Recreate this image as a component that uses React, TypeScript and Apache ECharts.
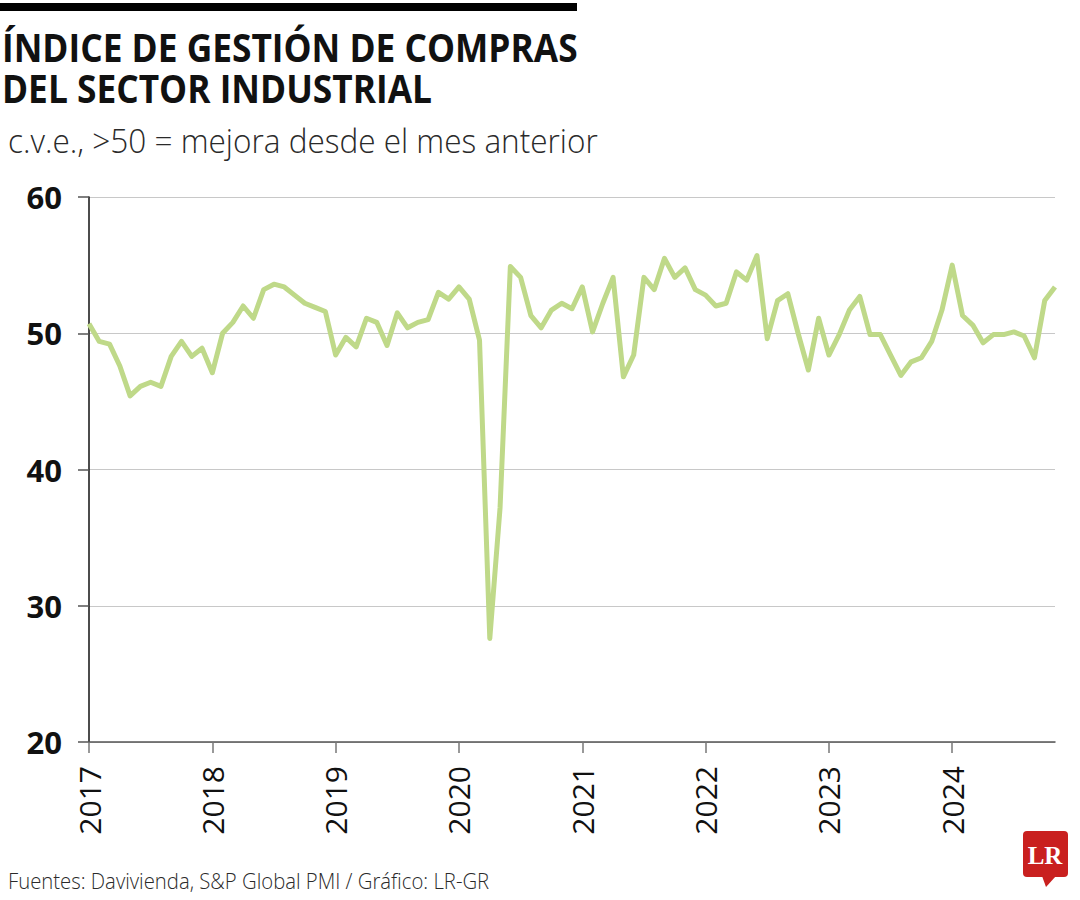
import React, { useEffect, useRef } from "react";
import * as echarts from "echarts";

const years = ["2017", "2018", "2019", "2020", "2021", "2022", "2023", "2024"];
const months = ["01", "02", "03", "04", "05", "06", "07", "08", "09", "10", "11", "12"];

const v2017 = [50.7, 49.4, 49.2, 47.6, 45.4, 46.1, 46.4, 46.1, 48.3, 49.4, 48.3, 48.9];
const v2018 = [47.1, 50.0, 50.8, 52.0, 51.1, 53.2, 53.6, 53.4, 52.8, 52.2, 51.9, 51.6];
const v2019 = [48.4, 49.7, 49.0, 51.1, 50.8, 49.1, 51.5, 50.4, 50.8, 51.0, 53.0, 52.5];
const v2020 = [53.4, 52.5, 49.5, 27.6, 37.2, 54.9, 54.1, 51.3, 50.4, 51.7, 52.2, 51.8];
const v2021 = [53.4, 50.1, 52.2, 54.1, 46.8, 48.4, 54.1, 53.2, 55.5, 54.1, 54.8, 53.2];
const v2022 = [52.8, 52.0, 52.2, 54.5, 53.9, 55.7, 49.6, 52.4, 52.9, 50.0, 47.3, 51.1];
const v2023 = [48.4, 49.9, 51.7, 52.7, 49.9, 49.9, 48.4, 46.9, 47.9, 48.2, 49.4, 51.7];
const v2024 = [55.0, 51.3, 50.6, 49.3, 49.9, 49.9, 50.1, 49.8, 48.2, 52.4, 53.4];

const valuesByYear = [v2017, v2018, v2019, v2020, v2021, v2022, v2023, v2024];

const yTicks = { min: 20, max: 60, interval: 10 };

const TITLE_1 = "ÍNDICE DE GESTIÓN DE COMPRAS";
const TITLE_2 = "DEL SECTOR INDUSTRIAL";
const SUBTITLE = "c.v.e., >50 = mejora desde el mes anterior";
const SOURCE = "Fuentes: Davivienda, S&P Global PMI / Gráfico: LR-GR";

const FONT = "'Open Sans', sans-serif";

export default function App() {
  const ref = useRef<HTMLDivElement>(null);

  useEffect(() => {
    if (!ref.current) return;
    const chart = echarts.init(ref.current, undefined, { renderer: "svg" });

    const categories: string[] = [];
    const values: number[] = [];
    valuesByYear.forEach((arr, yi) => {
      arr.forEach((v, mi) => {
        categories.push(`${years[yi]}-${months[mi]}`);
        values.push(v);
      });
    });

    const isYearStart = (idx: number) => !!categories[idx] && categories[idx].endsWith("-01");

    chart.setOption({
      animation: false,
      backgroundColor: "#ffffff",
      grid: { left: 89, right: 25, top: 197, bottom: 158, containLabel: false },
      graphic: [
        { type: "rect", shape: { x: 0, y: 3, width: 577, height: 8 }, style: { fill: "#000" } },
        {
          type: "text",
          x: 2,
          y: 47,
          scaleX: 0.905,
          style: {
            text: TITLE_1,
            x: 0,
            y: 0,
            fontFamily: FONT,
            fontWeight: "bold",
            fontSize: 39,
            fill: "#111",
            textAlign: "left",
            textVerticalAlign: "middle",
          },
        },
        {
          type: "text",
          x: 2,
          y: 88,
          scaleX: 0.905,
          style: {
            text: TITLE_2,
            x: 0,
            y: 0,
            fontFamily: FONT,
            fontWeight: "bold",
            fontSize: 39,
            fill: "#111",
            textAlign: "left",
            textVerticalAlign: "middle",
          },
        },
        {
          type: "text",
          x: 8,
          y: 140,
          scaleX: 0.956,
          style: {
            text: SUBTITLE,
            x: 0,
            y: 0,
            fontFamily: FONT,
            fontWeight: 300,
            fontSize: 33,
            fill: "#2a2a2a",
            textAlign: "left",
            textVerticalAlign: "middle",
          },
        },
        {
          type: "text",
          x: 8,
          y: 880,
          scaleX: 0.923,
          style: {
            text: SOURCE,
            x: 0,
            y: 0,
            fontFamily: FONT,
            fontWeight: 300,
            fontSize: 22,
            fill: "#2a2a2a",
            textAlign: "left",
            textVerticalAlign: "middle",
          },
        },
        {
          type: "rect",
          shape: { x: 1023, y: 831, width: 45, height: 46, r: 4 },
          style: { fill: "#c9201f" },
        },
        {
          type: "polygon",
          shape: { points: [[1042, 876], [1056, 876], [1046, 887]] },
          style: { fill: "#c9201f" },
        },
        {
          type: "text",
          style: {
            text: "LR",
            x: 1045,
            y: 855,
            fontFamily: "'Liberation Serif', 'DejaVu Serif', serif",
            fontWeight: "bold",
            fontSize: 25,
            fill: "#fff",
            textAlign: "center",
            textVerticalAlign: "middle",
          },
        },
      ],
      xAxis: {
        type: "category",
        data: categories,
        boundaryGap: false,
        axisLine: { show: true, lineStyle: { color: "#555", width: 1.5 } },
        axisTick: {
          show: true,
          length: 11,
          interval: (idx: number) => isYearStart(idx),
          lineStyle: { color: "#777", width: 1.5 },
        },
        axisLabel: {
          interval: (idx: number) => isYearStart(idx),
          rotate: 90,
          margin: 24,
          formatter: (v: string) => v.slice(0, 4),
          fontFamily: FONT,
          fontSize: 30,
          color: "#111",
        },
        splitLine: { show: false },
      },
      yAxis: {
        type: "value",
        min: yTicks.min,
        max: yTicks.max,
        interval: yTicks.interval,
        axisLine: { show: true, lineStyle: { color: "#111", width: 1.5 } },
        axisTick: { show: true, length: 11, lineStyle: { color: "#555", width: 1.5 } },
        axisLabel: {
          margin: 27,
          fontFamily: FONT,
          fontWeight: "bold",
          fontSize: 31,
          color: "#111",
        },
        splitLine: { show: true, lineStyle: { color: "#c8c8c8", width: 1.2 } },
      },
      series: [
        {
          type: "line",
          data: values,
          symbol: "none",
          lineStyle: { color: "#bfd989", width: 5, join: "round" },
          z: 3,
        },
      ],
    });

    return () => chart.dispose();
  }, []);

  return (
    <div
      ref={ref}
      style={{ position: "absolute", left: 0, top: 0, width: 1080, height: 900, background: "#fff" }}
    />
  );
}
